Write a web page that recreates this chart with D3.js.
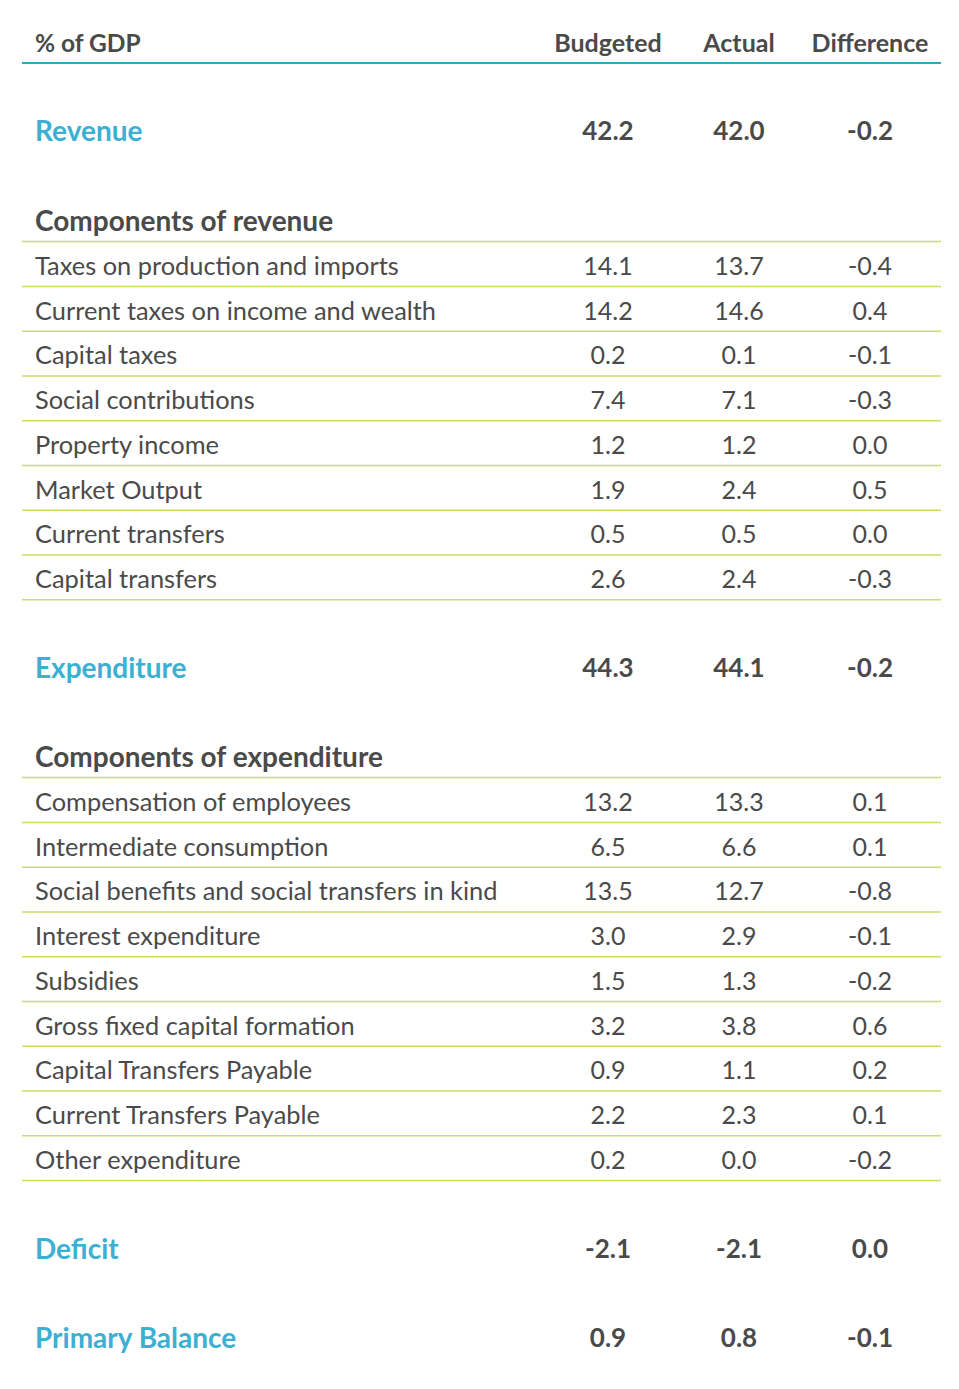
<!DOCTYPE html><html><head><meta charset="utf-8"><script src="https://cdn.jsdelivr.net/npm/d3@7"></script>
<style>body{margin:0;background:#fff}text{font-family:Lato,"Open Sans",sans-serif}</style></head><body><svg id="c" width="959" height="1389"></svg>
<script>
const columns=["Budgeted","Actual","Difference"];
const revenueTotal=[42.2,42.0,-0.2];
const revenueItems=["Taxes on production and imports","Current taxes on income and wealth","Capital taxes","Social contributions","Property income","Market Output","Current transfers","Capital transfers"];
const revenueValues=[[14.1,13.7,-0.4],[14.2,14.6,0.4],[0.2,0.1,-0.1],[7.4,7.1,-0.3],[1.2,1.2,0.0],[1.9,2.4,0.5],[0.5,0.5,0.0],[2.6,2.4,-0.3]];
const expenditureTotal=[44.3,44.1,-0.2];
const expenditureItems=["Compensation of employees","Intermediate consumption","Social benefits and social transfers in kind","Interest expenditure","Subsidies","Gross fixed capital formation","Capital Transfers Payable","Current Transfers Payable","Other expenditure"];
const expenditureValues=[[13.2,13.3,0.1],[6.5,6.6,0.1],[13.5,12.7,-0.8],[3.0,2.9,-0.1],[1.5,1.3,-0.2],[3.2,3.8,0.6],[0.9,1.1,0.2],[2.2,2.3,0.1],[0.2,0.0,-0.2]];
const deficit=[-2.1,-2.1,0.0];
const primaryBalance=[0.9,0.8,-0.1];

const rows=[];
rows.push({t:"total",label:"Revenue",v:revenueTotal,y:131});
rows.push({t:"sec",label:"Components of revenue",y:221});
revenueItems.forEach((l,i)=>rows.push({t:"item",label:l,v:revenueValues[i],y:266+i*44.75}));
rows.push({t:"total",label:"Expenditure",v:expenditureTotal,y:668});
rows.push({t:"sec",label:"Components of expenditure",y:757});
expenditureItems.forEach((l,i)=>rows.push({t:"item",label:l,v:expenditureValues[i],y:802+i*44.75}));
rows.push({t:"total",label:"Deficit",v:deficit,y:1249});
rows.push({t:"total",label:"Primary Balance",v:primaryBalance,y:1338});

const svg=d3.select("#c");
const x=d3.scalePoint().domain(columns).range([608,870]);
const fmt=v=>d3.format(".1f")(v).replace("\u2212","-");
const dark="#4a4a4a",blue="#3cb0d2",green="#c9df62";
svg.append("text").attr("x",35).attr("y",43).attr("dy","0.35em").attr("font-size",24.5).attr("font-weight",700).attr("fill",dark).text("% of GDP");
svg.selectAll(".h").data(columns).join("text").attr("x",d=>x(d)).attr("y",43).attr("dy","0.35em").attr("text-anchor","middle").attr("font-size",25).attr("font-weight",700).attr("fill",dark).text(d=>d);
svg.append("line").attr("x1",22).attr("x2",941).attr("y1",63).attr("y2",63).attr("stroke","#2aa9c2").attr("stroke-width",2);

const g=svg.selectAll(".r").data(rows).join("g");
g.append("text").attr("x",35).attr("y",d=>d.y).attr("dy","0.35em")
 .attr("font-size",d=>d.t==="item"?25.4:28).attr("font-weight",d=>d.t==="item"?400:700)
 .attr("fill",d=>d.t==="total"?blue:dark).text(d=>d.label);
g.filter(d=>d.v).selectAll(".v").data(d=>d.v.map((v,i)=>({v,c:columns[i],r:d}))).join("text")
 .attr("x",d=>x(d.c)).attr("y",d=>d.r.y).attr("dy","0.35em").attr("text-anchor","middle")
 .attr("font-size",d=>d.r.t==="total"?26:25).attr("font-weight",d=>d.r.t==="total"?700:400).attr("fill",dark).text(d=>fmt(d.v));
g.filter(d=>d.t!=="total").append("line").attr("x1",22).attr("x2",941)
 .attr("y1",d=>d.y+20.5).attr("y2",d=>d.y+20.5).attr("stroke",green).attr("stroke-width",1.5);
</script></body></html>
